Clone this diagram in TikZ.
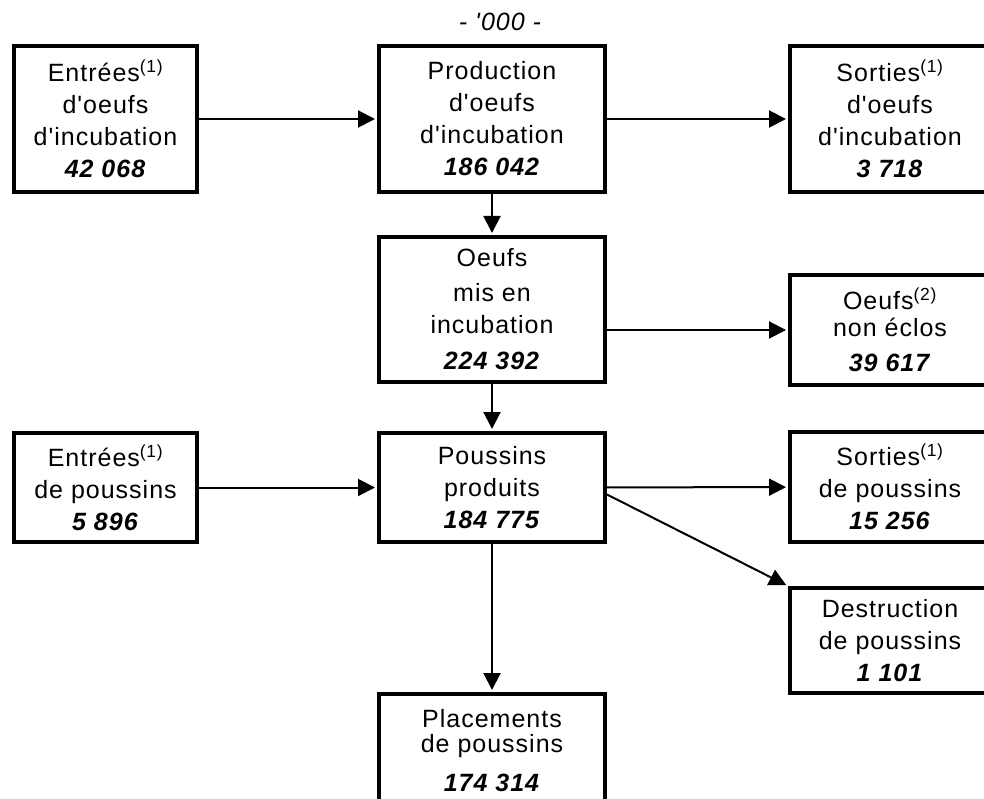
\documentclass[tikz,border=0pt]{standalone}
\usepackage{fontspec}
\setmainfont{Liberation Sans}[LetterSpace=4, Ligatures=TeXOff]
\usetikzlibrary{positioning, arrows.meta}

\begin{document}
\begin{tikzpicture}[x=1pt, y=-1pt,
	box/.style={draw, line width=4pt, inner sep=0pt, align=center, font=\fontsize{25}{32}\selectfont},
	flow/.style={line width=2pt, shorten >=2pt, -{Triangle[length=17pt, width=17pt]}}]
	\useasboundingbox (0,0) rectangle (984,799);
	\clip (0,0) rectangle (984,799);
	
	\node [font=\fontsize{25}{32}\selectfont\itshape] (unit) at (500,22) {- '000 -};
	
	\node [box, minimum width=183pt, minimum height=146pt] (entOeufs) at (105.5,119) {Entrées\textsuperscript{(1)}\\ d'oeufs\\ d'incubation\\ \textbf{\textit{42 068}}};
	\node [box, minimum width=226pt, minimum height=146pt] (prodOeufs) at (492,119) {Production\\ d'oeufs\\ d'incubation\\ \textbf{\textit{186 042}}};
	\node [box, minimum width=200pt, minimum height=146pt] (sortOeufs) at (890,119) {Sorties\textsuperscript{(1)}\\ d'oeufs\\ d'incubation\\ \textbf{\textit{3 718}}};
	
	\node [box, minimum width=226pt, minimum height=145pt] (misIncub) at (492,309.5) {Oeufs\\[3pt] mis en\\ incubation\\[4pt] \textbf{\textit{224 392}}};
	\node [box, minimum width=200pt, minimum height=110pt] (nonEclos) at (890,330) {Oeufs\textsuperscript{(2)}\\[-5pt] non éclos\\[3pt] \textbf{\textit{39 617}}};
	
	\node [box, minimum width=183pt, minimum height=109pt] (entPoussins) at (105.5,487.5) {Entrées\textsuperscript{(1)}\\ de poussins\\ \textbf{\textit{5 896}}};
	\node [box, minimum width=226pt, minimum height=109pt] (poussins) at (492,487.5) {Poussins\\ produits\\ \textbf{\textit{184 775}}};
	\node [box, minimum width=200pt, minimum height=110pt] (sortPoussins) at (890,487) {Sorties\textsuperscript{(1)}\\ de poussins\\ \textbf{\textit{15 256}}};
	
	\node [box, minimum width=200pt, minimum height=105pt] (destruction) at (890,640.5) {Destruction\\ de poussins\\ \textbf{\textit{1 101}}};
	\node [box, minimum width=226pt, minimum height=114pt] (placements) at (492,751) {Placements\\[-7pt] de poussins\\[7pt] \textbf{\textit{174 314}}};
	
	\draw [flow] (entOeufs) -- (prodOeufs);
	\draw [flow] (prodOeufs) -- (sortOeufs);
	\draw [flow] (prodOeufs) -- (misIncub);
	\draw [flow] (misIncub.east |- nonEclos.west) -- (nonEclos.west);
	\draw [flow] (misIncub) -- (poussins);
	\draw [flow] (entPoussins) -- (poussins);
	\draw [flow] (poussins) -- (sortPoussins);
	\draw [flow] ([yshift=-7pt]poussins.east) -- (destruction.north west);
	\draw [flow] (poussins) -- (placements);
\end{tikzpicture}
\end{document}
